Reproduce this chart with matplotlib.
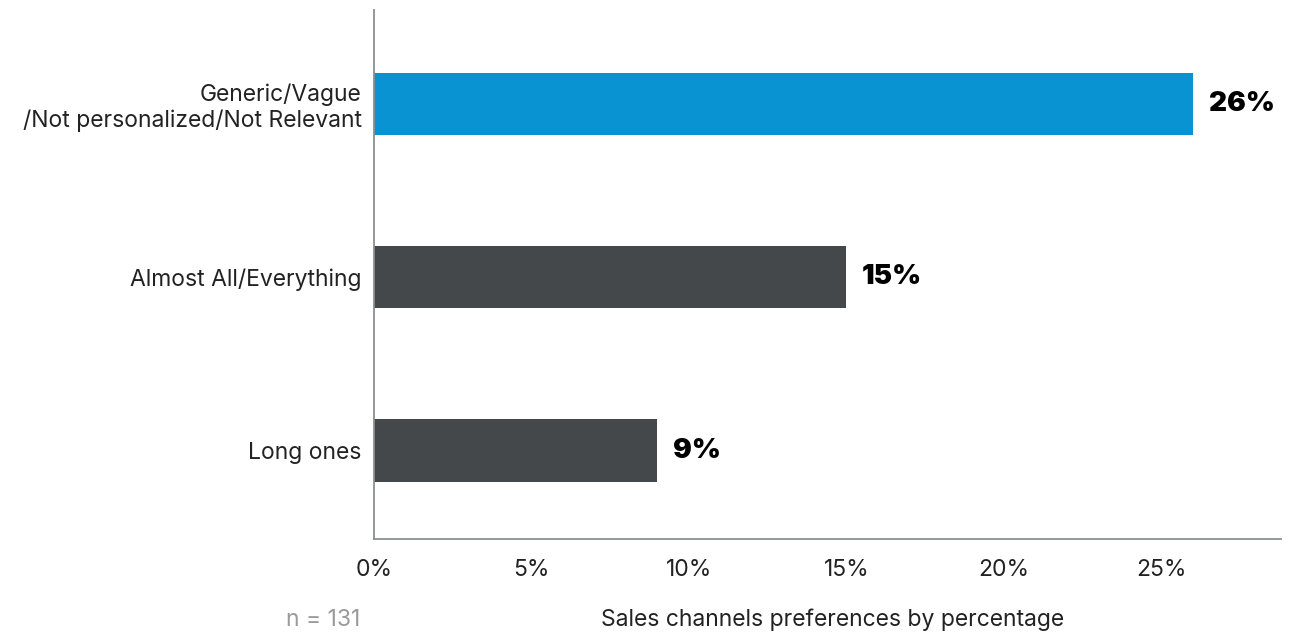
"""Horizontal bar chart of disliked sales-message traits."""
import matplotlib
matplotlib.use("Agg")
import matplotlib.pyplot as plt
from matplotlib.ticker import FuncFormatter

plt.rcParams["font.family"] = ["Inter", "DejaVu Sans"]

# ---------------------------------------------------------------------------
# Data
# ---------------------------------------------------------------------------
categories = [
    "Generic/Vague\n/Not personalized/Not Relevant",
    "Almost All/Everything",
    "Long ones",
]
values = [26, 15, 9]
bar_colors = ["#0A93D2", "#45484B", "#45484B"]
x_ticks = [0, 5, 10, 15, 20, 25]
sample_note = "n = 131"
x_title = "Sales channels preferences by percentage"

fig = plt.figure(figsize=(12.91, 6.32), dpi=100)
ax = fig.add_axes([0.2897, 0.147, 0.7026, 0.837])

positions = list(range(len(categories)))
ax.barh(positions, values, height=0.36, color=bar_colors)

# value labels at the bar ends
for y, v in zip(positions, values):
    ax.text(v + 0.5, y, f"{v}%", va="center", ha="left",
            fontsize=20, fontweight="black", color="black")

ax.set_yticks(positions)
ax.set_yticklabels(categories, fontsize=16.5, color="#222222",
                   linespacing=1.2, ha="right")
ax.set_ylim(2.51, -0.54)

ax.set_xlim(0, 28.8)
ax.set_xticks(x_ticks)
ax.xaxis.set_major_formatter(FuncFormatter(lambda x, _: f"{x:.0f}%"))
ax.tick_params(axis="x", labelsize=16.5, labelcolor="#222222", length=0, pad=14)
ax.tick_params(axis="y", length=0, pad=9)

for side in ("top", "right"):
    ax.spines[side].set_visible(False)
for side in ("left", "bottom"):
    ax.spines[side].set_color("#8A8F92")
    ax.spines[side].set_linewidth(1.3)

fig.text(360 / 1291, 1 - 620 / 632, sample_note, ha="right", va="center",
         fontsize=16.5, color="#9A9A9A")
fig.text(833 / 1291, 1 - 620 / 632, x_title, ha="center", va="center",
         fontsize=16.5, color="#222222")

fig.savefig("out.png", dpi=100)
